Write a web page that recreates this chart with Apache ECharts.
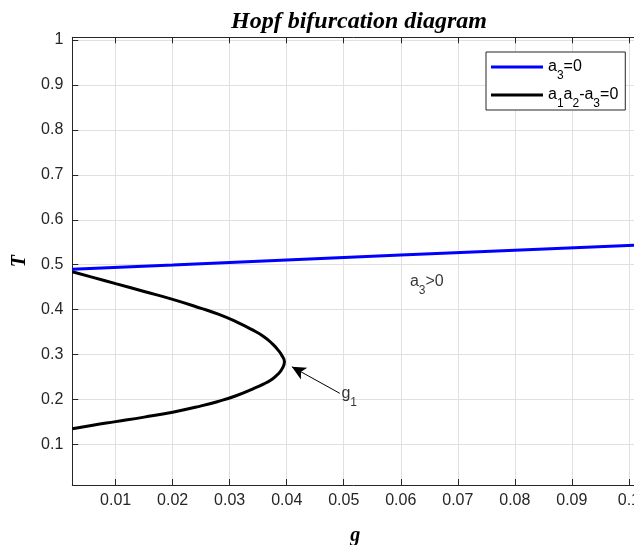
<!DOCTYPE html>
<html>
<head>
<meta charset="utf-8">
<title>Hopf bifurcation diagram</title>
<script src="https://cdn.jsdelivr.net/npm/echarts@6.0.0/dist/echarts.min.js"></script>
<style>
	html, body { margin: 0; padding: 0; background: #fff; }
	#container { width: 634px; height: 545px; }
</style>
</head>
<body>
<div id="container"></div>
<script>
// a3 = 0 (blue line)
var gBlue = [0.0024, 0.02, 0.04, 0.06, 0.08, 0.1016];
var tBlue = [0.490, 0.4995, 0.5105, 0.5215, 0.5325, 0.544];

// a1a2 - a3 = 0 (black curve, from upper left round the nose to lower left)
var gBlack = [0.0024, 0.006, 0.01, 0.015, 0.02, 0.025, 0.028, 0.031, 0.034, 0.036, 0.0375, 0.0385, 0.0392, 0.0396,
	0.0392, 0.0385, 0.0375, 0.036, 0.034, 0.031, 0.028, 0.025, 0.02, 0.015, 0.01, 0.006, 0.0024];
var tBlack = [0.4845, 0.472, 0.458, 0.4405, 0.423, 0.403, 0.390, 0.374, 0.355, 0.340, 0.324, 0.310, 0.297, 0.284,
	0.269, 0.257, 0.246, 0.235, 0.2235, 0.208, 0.196, 0.186, 0.172, 0.161, 0.151, 0.143, 0.135];

// ticks
var xTicks = [0.01, 0.02, 0.03, 0.04, 0.05, 0.06, 0.07, 0.08, 0.09, 0.1];
var yTicks = [0.1, 0.2, 0.3, 0.4, 0.5, 0.6, 0.7, 0.8, 0.9, 1];

// annotations (data coords)
var arrowFrom = [0.0493, 0.214];
var arrowTo = [0.0409, 0.273];
var g1Pos = [0.0496, 0.213];
var a3Pos = [0.0616, 0.4616];

function zip(a, b) {
	var out = [];
	for (var i = 0; i < a.length; i++) {
		out.push([a[i], b[i]]);
	}
	return out;
}

var axisColor = '#262626';
var gridColor = '#e0e0e0';
var sansFont = 'Liberation Sans';
var serifFont = 'Liberation Serif';

// subscripts with rich text: top padding pushes the small digits down
var subRich = {
	n: { fontSize: 16, lineHeight: 20, fontFamily: sansFont, color: '#000' },
	s: { fontSize: 12, lineHeight: 12, padding: [18, 0, 0, 0], fontFamily: sansFont, color: '#000' }
};

var dom = document.getElementById('container');
var myChart = echarts.init(dom, null, { renderer: 'canvas' });

var option = {
	animation: false,
	backgroundColor: '#fff',
	title: {
		text: 'Hopf bifurcation diagram',
		left: 354,
		textAlign: 'center',
		top: 5,
		textStyle: {
			fontFamily: serifFont,
			fontWeight: 'bold',
			fontStyle: 'italic',
			fontSize: 24,
			color: '#000'
		}
	},
	legend: {
		data: ['a3=0', 'a1a2-a3=0'],
		orient: 'vertical',
		left: 486,
		top: 52,
		padding: [0, 7, 0, 5],
		itemGap: -2,
		itemWidth: 52,
		itemHeight: 3,
		icon: 'rect',
		borderColor: axisColor,
		borderWidth: 1,
		backgroundColor: '#fff',
		formatter: function(name) {
			if (name === 'a3=0') {
				return '{n|a}{s|3}{n|=0}';
			}
			return '{n|a}{s|1}{n|a}{s|2}{n|-a}{s|3}{n|=0}';
		},
		textStyle: {
			rich: subRich
		}
	},
	grid: {
		left: 72.3,
		top: 37.3,
		right: -4,
		bottom: 60,
		outerBoundsMode: 'none',
		containLabel: false
	},
	xAxis: [{
		type: 'value',
		min: 0.0024,
		max: 0.1016,
		name: 'g',
		nameLocation: 'middle',
		nameGap: 41,
		nameTextStyle: {
			fontFamily: serifFont,
			fontWeight: 'bold',
			fontStyle: 'italic',
			fontSize: 20,
			color: '#000'
		},
		axisLine: { show: true, lineStyle: { color: axisColor, width: 1 } },
		axisTick: { show: true, inside: true, length: 6, customValues: xTicks, lineStyle: { color: axisColor } },
		axisLabel: { customValues: xTicks, margin: 8, fontFamily: sansFont, fontSize: 16, color: axisColor },
		splitLine: { show: true, lineStyle: { color: gridColor, width: 1 } }
	}, {
		type: 'value',
		position: 'top',
		min: 0.0024,
		max: 0.1016,
		axisLine: { show: true, lineStyle: { color: axisColor, width: 1 } },
		axisTick: { show: true, inside: true, length: 6, customValues: xTicks, lineStyle: { color: axisColor } },
		axisLabel: { show: false },
		splitLine: { show: false }
	}],
	yAxis: {
		type: 'value',
		min: 0.01,
		max: 1.006,
		name: 'T',
		nameLocation: 'middle',
		nameRotate: 90,
		nameGap: 38,
		nameTextStyle: {
			fontFamily: serifFont,
			fontWeight: 'bold',
			fontStyle: 'italic',
			fontSize: 20,
			color: '#000'
		},
		axisLine: { show: true, lineStyle: { color: axisColor, width: 1 } },
		axisTick: { show: true, inside: true, length: 6, customValues: yTicks, lineStyle: { color: axisColor } },
		axisLabel: { customValues: yTicks, margin: 9, fontFamily: sansFont, fontSize: 16, color: axisColor },
		splitLine: { show: true, lineStyle: { color: gridColor, width: 1 } }
	},
	series: [{
		name: 'a3=0',
		type: 'line',
		data: zip(gBlue, tBlue),
		showSymbol: false,
		symbol: 'none',
		lineStyle: { color: '#0000ff', width: 3 },
		itemStyle: { color: '#0000ff' },
		z: 3
	}, {
		name: 'a1a2-a3=0',
		type: 'line',
		data: zip(gBlack, tBlack),
		smooth: 0.5,
		showSymbol: false,
		symbol: 'none',
		lineStyle: { color: '#000', width: 3 },
		itemStyle: { color: '#000' },
		z: 2
	}, {
		name: 'g1',
		type: 'scatter',
		data: [g1Pos],
		symbolSize: 0,
		silent: true,
		label: {
			show: true,
			position: 'right',
			distance: 0,
			formatter: '{n|g}{s|1}',
			rich: subRich
		},
		markLine: {
			silent: true,
			symbol: ['none', 'arrow'],
			symbolSize: [10, 14],
			label: { show: false },
			lineStyle: { color: '#000', width: 1, type: 'solid' },
			data: [[{ coord: arrowFrom }, { coord: arrowTo }]]
		}
	}, {
		name: 'a3>0',
		type: 'scatter',
		data: [a3Pos],
		symbolSize: 0,
		silent: true,
		label: {
			show: true,
			position: 'right',
			distance: 0,
			formatter: '{n|a}{s|3}{n|>0}',
			rich: subRich
		}
	}]
};

if (option && typeof option === 'object') {
	myChart.setOption(option, true);
}
</script>
</body>
</html>
